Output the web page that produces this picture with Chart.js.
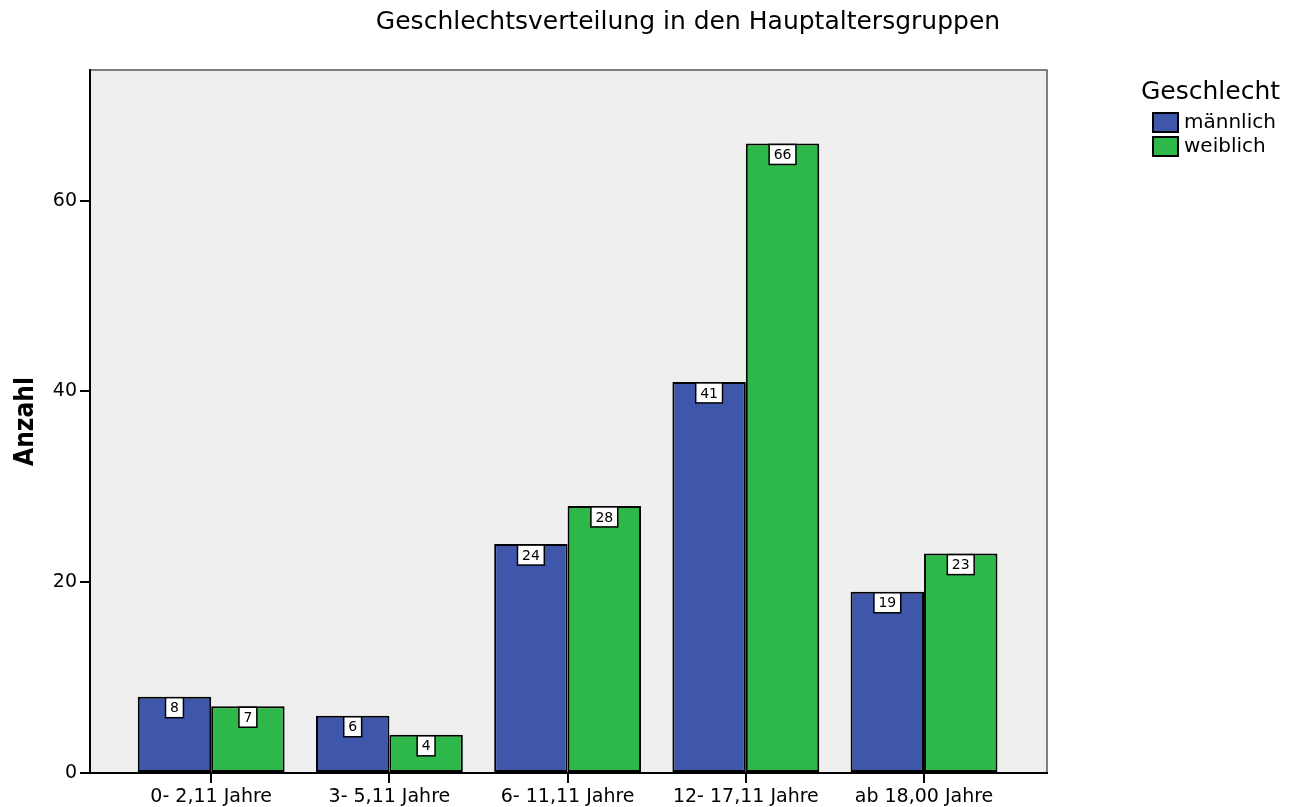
<!DOCTYPE html>
<html>
<head>
<meta charset="utf-8">
<script src="https://cdn.jsdelivr.net/npm/chart.js@4.4.1/dist/chart.umd.min.js"></script>
<style>
  html, body { margin: 0; padding: 0; background: #fff; }
</style>
</head>
<body>
<canvas id="chart" width="1301" height="807"></canvas>
<script>
// Daten aus der Grafik
const kategorien = ['0- 2,11 Jahre', '3- 5,11 Jahre', '6- 11,11 Jahre', '12- 17,11 Jahre', 'ab 18,00 Jahre'];
const maennlich = [8, 6, 24, 41, 19];
const weiblich = [7, 4, 28, 66, 23];
const serienNamen = ['männlich', 'weiblich'];
const yTicks = [0, 20, 40, 60];

const titel = 'Geschlechtsverteilung in den Hauptaltersgruppen';
const legendenTitel = 'Geschlecht';
const FONT = '"DejaVu Sans", "Liberation Sans", Arial, sans-serif';

// Hintergrund der Plotfläche + grauer Rahmen oben/rechts
const plotBackground = {
  id: 'plotBackground',
  beforeDraw(chart) {
    const { ctx, chartArea: a } = chart;
    ctx.save();
    ctx.fillStyle = '#efefef';
    ctx.fillRect(a.left, a.top, a.right - a.left, a.bottom - a.top);
    ctx.strokeStyle = '#5a5a5a';
    ctx.lineWidth = 1.5;
    ctx.beginPath();
    ctx.moveTo(a.left, a.top);
    ctx.lineTo(a.right, a.top);
    ctx.lineTo(a.right, a.bottom);
    ctx.stroke();
    ctx.restore();
  }
};

// Wertbeschriftungen in weißen Kästchen oben im Balken
const wertLabels = {
  id: 'wertLabels',
  afterDatasetsDraw(chart) {
    const { ctx } = chart;
    ctx.save();
    ctx.font = '14px ' + FONT;
    ctx.textAlign = 'center';
    ctx.textBaseline = 'middle';
    chart.data.datasets.forEach((ds, i) => {
      const meta = chart.getDatasetMeta(i);
      meta.data.forEach((bar, j) => {
        const text = String(ds.data[j].y);
        const w = ctx.measureText(text).width + 9;
        const h = 20;
        const x = bar.x - w / 2;
        const y = bar.y + 1;
        ctx.fillStyle = '#fff';
        ctx.fillRect(x, y, w, h);
        ctx.strokeStyle = '#000';
        ctx.lineWidth = 1.5;
        ctx.strokeRect(x, y, w, h);
        ctx.fillStyle = '#000';
        ctx.fillText(text, bar.x, y + h / 2 + 1);
      });
    });
    ctx.restore();
  }
};

// Titel und Legende
const titelUndLegende = {
  id: 'titelUndLegende',
  afterDraw(chart) {
    const { ctx } = chart;
    ctx.save();
    ctx.fillStyle = '#000';
    ctx.textBaseline = 'middle';
    ctx.textAlign = 'center';
    ctx.font = '25px ' + FONT;
    ctx.fillText(titel, 688, 22);

    ctx.textAlign = 'left';
    ctx.font = '25px ' + FONT;
    ctx.fillText(legendenTitel, 1141, 92);

    ctx.font = '20px ' + FONT;
    chart.data.datasets.forEach((ds, i) => {
      const y = 113 + i * 24;
      ctx.fillStyle = ds.backgroundColor;
      ctx.fillRect(1153, y, 25, 19);
      ctx.strokeStyle = '#000';
      ctx.lineWidth = 2;
      ctx.strokeRect(1153, y, 25, 19);
      ctx.fillStyle = '#000';
      ctx.fillText(ds.label, 1184, y + 10);
    });
    ctx.restore();
  }
};

const ctx = document.getElementById('chart').getContext('2d');

new Chart(ctx, {
  type: 'bar',
  data: {
    datasets: [
      {
        label: serienNamen[0],
        data: maennlich.map((v, i) => ({ x: i, y: v })),
        backgroundColor: '#3f57aa',
        borderColor: '#000',
        borderWidth: 2,
        borderSkipped: false,
      },
      {
        label: serienNamen[1],
        data: weiblich.map((v, i) => ({ x: i, y: v })),
        backgroundColor: '#2fb84a',
        borderColor: '#000',
        borderWidth: 2,
        borderSkipped: false,
      },
    ],
  },
  options: {
    responsive: false,
    animation: false,
    devicePixelRatio: 1,
    categoryPercentage: 0.824,
    barPercentage: 1,
    layout: { padding: { top: 70, right: 254, left: 0, bottom: 0 } },
    plugins: {
      legend: { display: false },
      title: { display: false },
      tooltip: { enabled: false },
    },
    scales: {
      x: {
        type: 'linear',
        offset: false,
        min: -0.68,
        max: 4.69,
        afterBuildTicks: (s) => {
          s.ticks = kategorien.map((_, i) => ({ value: i }));
        },
        afterFit: (s) => { s.height = 34; },
        ticks: {
          autoSkip: false,
          maxRotation: 0,
          padding: 3,
          color: '#000',
          font: { family: FONT, size: 19 },
          callback: (v) => kategorien[v] ?? '',
        },
        grid: {
          offset: false,
          drawOnChartArea: false,
          drawTicks: true,
          tickLength: 10,
          color: '#000',
          lineWidth: 2,
        },
        border: { display: true, color: '#000', width: 2 },
      },
      y: {
        min: 0,
        max: 73.7,
        afterBuildTicks: (s) => {
          s.ticks = yTicks.map((v) => ({ value: v }));
        },
        afterFit: (s) => { s.width = 90; },
        ticks: {
          padding: 3,
          color: '#000',
          font: { family: FONT, size: 19 },
        },
        grid: {
          drawOnChartArea: false,
          drawTicks: true,
          tickLength: 10,
          color: '#000',
          lineWidth: 2,
        },
        border: { display: true, color: '#000', width: 2 },
        title: {
          display: true,
          text: 'Anzahl',
          color: '#000',
          padding: { top: 11, bottom: 0 },
          font: { family: '"Liberation Sans Narrow", "DejaVu Sans Condensed", "Liberation Sans", sans-serif', size: 26, weight: 'bold' },
        },
      },
    },
  },
  plugins: [plotBackground, wertLabels, titelUndLegende],
});
</script>
</body>
</html>
